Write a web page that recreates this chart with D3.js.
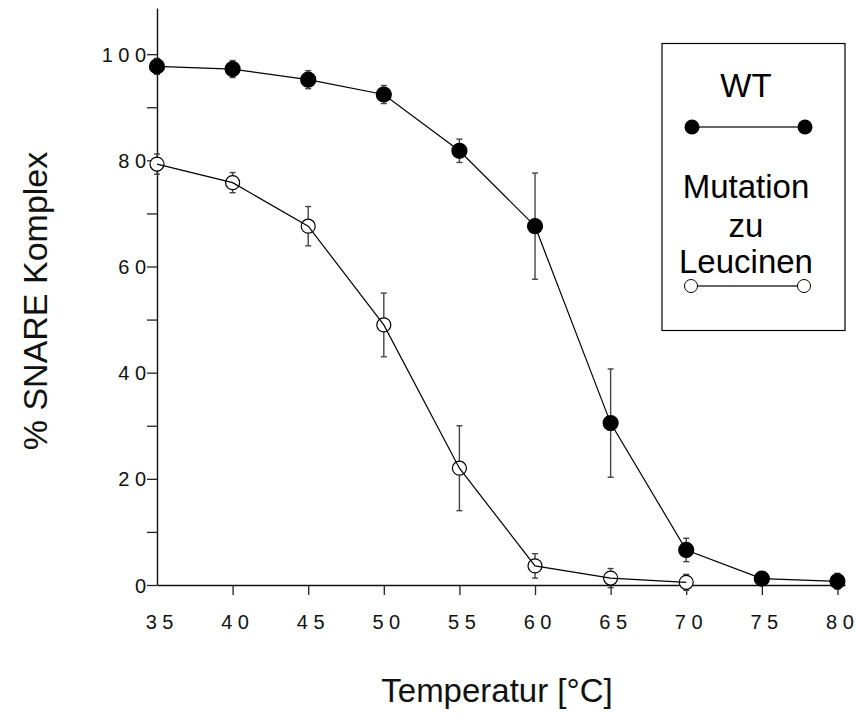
<!DOCTYPE html>
<html><head><meta charset="utf-8">
<script src="https://cdn.jsdelivr.net/npm/d3@7/dist/d3.min.js"></script>
<style>body{margin:0;background:#fff} text{font-family:"Liberation Sans",Arial,sans-serif}</style>
</head><body><svg id="c" width="856" height="715"></svg>
<script>
// ---- data ----
const wtTemps = [35, 40, 45, 50, 55, 60, 65, 70, 75, 80];
const wtValues = [97.7, 97.2, 95.2, 92.4, 81.8, 67.6, 30.5, 6.6, 1.2, 0.7];
const wtErrors = [1.5, 1.6, 1.7, 1.7, 2.2, 10.0, 10.2, 2.2, 1.2, 1.5];
const mutTemps = [35, 40, 45, 50, 55, 60, 65, 70];
const mutValues = [79.3, 75.8, 67.6, 49.0, 22.0, 3.6, 1.3, 0.5];
const mutErrors = [1.9, 1.9, 3.7, 6.0, 8.0, 2.3, 1.8, 1.5];
const xTicks = [35, 40, 45, 50, 55, 60, 65, 70, 75, 80];
const yTicks = [0, 10, 20, 30, 40, 50, 60, 70, 80, 90, 100];
const yLabelled = [0, 20, 40, 60, 80, 100];
const legendLabels = ["WT", ["Mutation", "zu", "Leucinen"]];
const xTitle = "Temperatur [°C]";
const yTitle = "% SNARE Komplex";

const svg = d3.select("#c");
const x = d3.scaleLinear([35, 80.5], [157, 845]);
const y = d3.scaleLinear([0, 108.7], [585, 8]);

const tickFont = 20, spacing = 5.5;

// spaced digits without trailing letter-spacing
function spaceDigits(sel) {
  sel.each(function () {
    const t = d3.select(this);
    const s = t.text();
    t.text("");
    [...s].forEach((ch, i) => t.append("tspan").attr("dx", i ? spacing : null).text(ch));
  });
}

// axes
const gx = svg.append("g").attr("transform", `translate(0,${y(0)})`)
  .call(d3.axisBottom(x).tickValues(xTicks).tickSize(10).tickSizeOuter(0));
gx.select(".domain").attr("stroke", "#111").attr("stroke-width", 1.4);
gx.selectAll(".tick line").attr("stroke", "#222").attr("stroke-width", 1.3);
gx.selectAll(".tick").filter(d => d === 35).select("line").remove();
gx.selectAll("text").attr("font-size", tickFont).attr("fill", "#111")
  .attr("x", 2).attr("dy", 0).attr("y", 44).call(spaceDigits);

const gy = svg.append("g").attr("transform", `translate(${x(35)},0)`)
  .call(d3.axisLeft(y).tickValues(yTicks).tickSize(10).tickSizeOuter(0).tickPadding(1)
    .tickFormat(d => yLabelled.includes(d) ? d : ""));
gy.select(".domain").attr("stroke", "#111").attr("stroke-width", 1.4);
gy.selectAll(".tick line").attr("stroke", "#222").attr("stroke-width", 1.3);
gy.selectAll("text").attr("font-size", tickFont).attr("fill", "#111")
  .attr("dy", null).attr("y", 7).call(spaceDigits);

// titles
svg.append("text").attr("x", 497).attr("y", 702).attr("text-anchor", "middle")
  .attr("font-size", 33).attr("fill", "#111").text(xTitle);
svg.append("text").attr("transform", "translate(47,301) rotate(-90)").attr("text-anchor", "middle")
  .attr("font-size", 34).attr("fill", "#111").text(yTitle);

function series(temps, vals, errs, filled) {
  const data = temps.map((t, i) => ({ t, v: vals[i], e: errs[i] }));
  const g = svg.append("g");
  const eb = g.selectAll("g.eb").data(data).join("g").attr("stroke", "#444").attr("stroke-width", 1.4);
  eb.append("line").attr("x1", d => x(d.t)).attr("x2", d => x(d.t))
    .attr("y1", d => y(d.v + d.e)).attr("y2", d => y(d.v - d.e));
  eb.append("line").attr("x1", d => x(d.t) - 3).attr("x2", d => x(d.t) + 3)
    .attr("y1", d => y(d.v + d.e)).attr("y2", d => y(d.v + d.e));
  eb.append("line").attr("x1", d => x(d.t) - 3).attr("x2", d => x(d.t) + 3)
    .attr("y1", d => y(d.v - d.e)).attr("y2", d => y(d.v - d.e));
  g.selectAll("circle").data(data).join("circle")
    .attr("cx", d => x(d.t)).attr("cy", d => y(d.v)).attr("r", filled ? 7.5 : 7)
    .attr("fill", filled ? "#000" : "#fff").attr("stroke", "#000").attr("stroke-width", 1.2);
  g.append("path").datum(data).attr("fill", "none").attr("stroke", "#000").attr("stroke-width", 1.2)
    .attr("d", d3.line().x(d => x(d.t)).y(d => y(d.v)));
}
series(mutTemps, mutValues, mutErrors, false);
series(wtTemps, wtValues, wtErrors, true);

// legend
const lg = svg.append("g");
lg.append("rect").attr("x", 662).attr("y", 43.5).attr("width", 183).attr("height", 287)
  .attr("fill", "#fff").attr("stroke", "#000").attr("stroke-width", 1.2);
lg.append("text").attr("x", 746).attr("y", 97).attr("text-anchor", "middle").attr("font-size", 33).text(legendLabels[0]);
lg.append("line").attr("x1", 692).attr("x2", 805).attr("y1", 127).attr("y2", 127).attr("stroke", "#333").attr("stroke-width", 1.3);
[692, 805].forEach(cx => lg.append("circle").attr("cx", cx).attr("cy", 127).attr("r", 7.5).attr("fill", "#000"));
legendLabels[1].forEach((s, i) => lg.append("text").attr("x", 746).attr("y", [198, 237, 273][i])
  .attr("text-anchor", "middle").attr("font-size", 33).text(s));
lg.append("line").attr("x1", 691).attr("x2", 804).attr("y1", 286).attr("y2", 286).attr("stroke", "#333").attr("stroke-width", 1.3);
[691, 804].forEach(cx => lg.append("circle").attr("cx", cx).attr("cy", 286).attr("r", 6.5).attr("fill", "#fff").attr("stroke", "#000").attr("stroke-width", 1));
</script></body></html>
